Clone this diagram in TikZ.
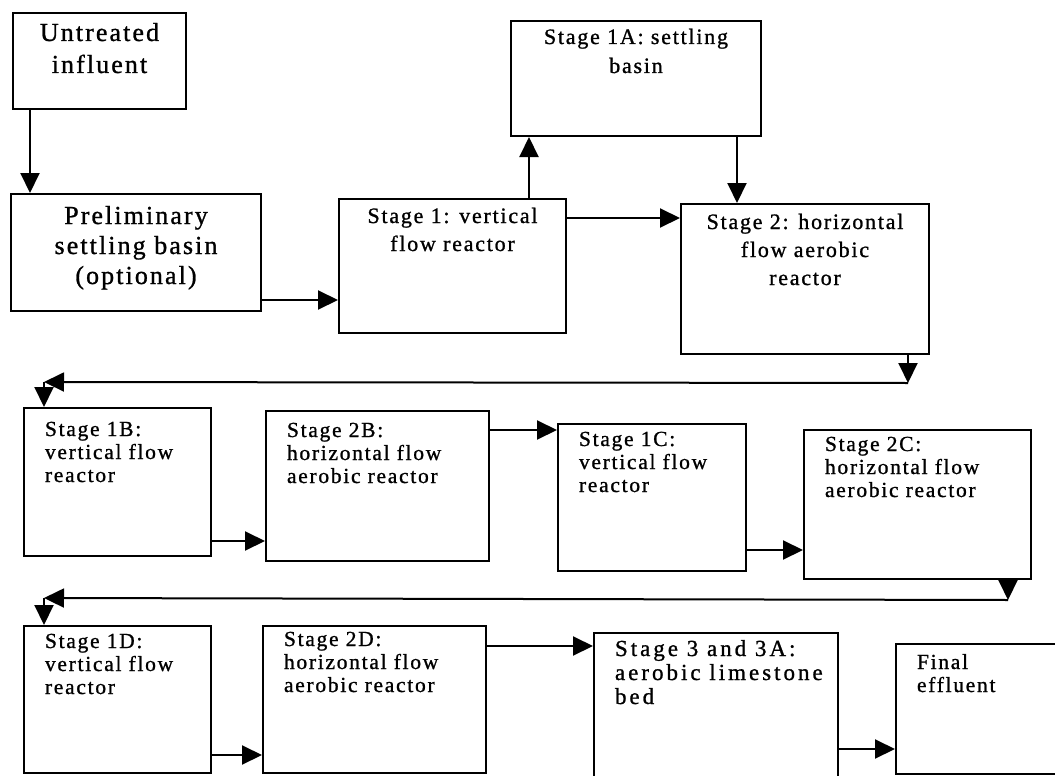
\documentclass[tikz,border=0pt]{standalone}
\usepackage{fontspec}
\setmainfont{Liberation Serif}[LetterSpace=8,FakeBold=1]
\usetikzlibrary{arrows.meta}
\newcommand\cbox[6]{\parbox[t][#2][t]{#1}{\centering\fontsize{#3}{#4}\selectfont\rule{0pt}{#5}#6}}
\newcommand\lbox[6]{\parbox[t][#2][t]{#1}{\raggedright\leftskip=21pt\fontsize{#3}{#4}\selectfont\rule{0pt}{#5}#6}}
\tikzset{
  box/.style={draw, line width=2pt, inner sep=0pt, anchor=north west},
  flow/.style={line width=2pt, -{Triangle[length=20pt,width=19pt]}}
}
\begin{document}
\begin{tikzpicture}[x=1pt,y=-1pt]
\clip (0,0) rectangle (1055,776);
\fill[white] (0,0) rectangle (1055,776);
% boxes
\node[box] (u) at (12,12) {\cbox{173pt}{96pt}{26}{32}{28pt}{Untreated\\influent}};
\node[box] (p) at (10,193) {\cbox{250pt}{117pt}{26}{30}{30pt}{Preliminary\\settling basin\\(optional)}};
\node[box] (s1) at (338,198) {\cbox{227pt}{134pt}{22}{28}{24pt}{Stage 1: vertical\\flow reactor}};
\node[box] (s1a) at (510,20) {\cbox{250pt}{115pt}{22}{29}{23pt}{Stage 1A: settling\\basin}};
\node[box] (s2) at (680,203) {\cbox{248pt}{150pt}{22}{28}{25pt}{Stage 2: horizontal\\flow aerobic\\reactor}};
\node[box] (b1) at (23,407) {\lbox{187pt}{148pt}{21.5}{23}{28pt}{Stage 1B:\\vertical flow\\reactor}};
\node[box] (b2) at (265,410) {\lbox{223pt}{150pt}{21.5}{23}{26pt}{Stage 2B:\\horizontal flow\\aerobic reactor}};
\node[box] (c1) at (557,423) {\lbox{188pt}{147pt}{21.5}{23}{22pt}{Stage 1C:\\vertical flow\\reactor}};
\node[box] (c2) at (803,429) {\lbox{227pt}{149pt}{21.5}{23}{21pt}{Stage 2C:\\horizontal flow\\aerobic reactor}};
\node[box] (d1) at (23,625) {\lbox{187pt}{147pt}{21.5}{23}{22pt}{Stage 1D:\\vertical flow\\reactor}};
\node[box] (d2) at (262,625) {\lbox{223pt}{147pt}{21.5}{23}{20pt}{Stage 2D:\\horizontal flow\\aerobic reactor}};
\node[box] (s3) at (593,632) {\lbox{244pt}{170pt}{23}{24}{23pt}{\addfontfeature{LetterSpace=13}Stage 3 and 3A:\\aerobic limestone\\bed}};
\node[box] (fe) at (895,643) {\lbox{180pt}{130pt}{21.5}{23}{25pt}{Final\\effluent}};
% guide coordinates
\coordinate (X1) at (30,0);
\coordinate (X2) at (529,0);
\coordinate (X3) at (737,0);
\coordinate (Y1) at (0,300);
\coordinate (Y2) at (0,218);
\coordinate (r1) at (908,383);
\coordinate (r2) at (44,382);
\coordinate (Y3) at (0,541);
\coordinate (Y4) at (0,430);
\coordinate (Y5) at (0,550);
\coordinate (r3) at (1008,600);
\coordinate (r4) at (44,598);
\coordinate (Y6) at (0,755);
\coordinate (Y7) at (0,646);
\coordinate (Y8) at (0,749);
% connectors
\draw[flow] (u.south -| X1) -- (p.north -| X1);
\draw[flow] (p.east |- Y1) -- (s1.west |- Y1);
\draw[flow] (s1.north -| X2) -- (s1a.south -| X2);
\draw[flow] (s1a.south -| X3) -- (s2.north -| X3);
\draw[flow] (s1.east |- Y2) -- (s2.west |- Y2);
\draw[flow] (s2.south -| r1) -- (r1);
\draw[flow] (r1) -- (r2);
\draw[flow] (r2) -- (b1.north -| r2);
\draw[flow] (b1.east |- Y3) -- (b2.west |- Y3);
\draw[flow] (b2.east |- Y4) -- (c1.west |- Y4);
\draw[flow] (c1.east |- Y5) -- (c2.west |- Y5);
\draw[flow] (c2.south -| r3) -- (r3);
\draw[flow] (r3) -- (r4);
\draw[flow] (r4) -- (d1.north -| r4);
\draw[flow] (d1.east |- Y6) -- (d2.west |- Y6);
\draw[flow] (d2.east |- Y7) -- (s3.west |- Y7);
\draw[flow] (s3.east |- Y8) -- (fe.west |- Y8);
\end{tikzpicture}
\end{document}
